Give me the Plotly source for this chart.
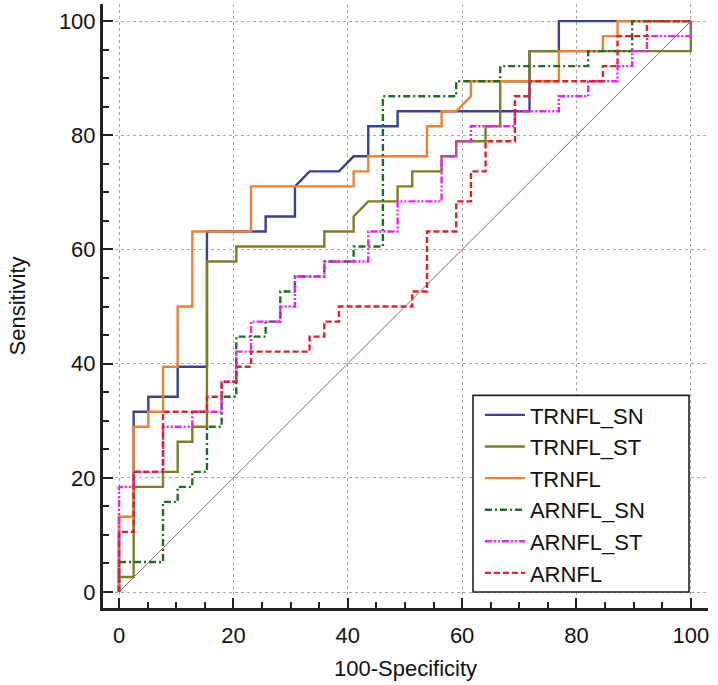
import plotly.graph_objects as go

# ROC step curves: 100-Specificity (x) and Sensitivity (y)
names = ["TRNFL_SN", "TRNFL_ST", "TRNFL", "ARNFL_SN", "ARNFL_ST", "ARNFL"]

trnfl_sn_x = [0, 0, 2.56, 2.56, 5.13, 5.13, 10.26, 10.26, 15.38, 15.38, 25.64, 25.64, 30.77, 30.77,
              33.33, 38.46, 41.03, 43.59, 43.59, 48.72, 48.72, 71.79, 71.79, 76.92, 76.92, 100]
trnfl_sn_y = [0, 13.16, 13.16, 31.58, 31.58, 34.21, 34.21, 39.47, 39.47, 63.16, 63.16, 65.79, 65.79, 71.05,
              73.68, 73.68, 76.32, 76.32, 81.58, 81.58, 84.21, 84.21, 94.74, 94.74, 100, 100]

trnfl_st_x = [0, 0, 2.56, 2.56, 7.69, 7.69, 10.26, 10.26, 12.82, 12.82, 15.38, 15.38, 20.51, 20.51,
              35.90, 35.90, 41.03, 41.03, 43.59, 48.72, 48.72, 51.28, 51.28, 56.41, 56.41, 58.97, 58.97,
              64.10, 64.10, 66.67, 66.67, 71.79, 71.79, 100, 100]
trnfl_st_y = [0, 2.63, 2.63, 18.42, 18.42, 21.05, 21.05, 26.32, 26.32, 28.95, 28.95, 57.89, 57.89, 60.53,
              60.53, 63.16, 63.16, 65.79, 68.42, 68.42, 71.05, 71.05, 73.68, 73.68, 76.32, 76.32, 78.95,
              78.95, 81.58, 81.58, 89.47, 89.47, 94.74, 94.74, 100]

trnfl_x = [0, 0, 2.56, 2.56, 5.13, 5.13, 7.69, 7.69, 10.26, 10.26, 12.82, 12.82, 23.08, 23.08, 41.03, 41.03,
           43.59, 43.59, 53.85, 53.85, 56.41, 56.41, 58.97, 61.54, 61.54, 76.92, 76.92, 84.62, 84.62,
           87.18, 87.18, 100]
trnfl_y = [0, 13.16, 13.16, 28.95, 28.95, 31.58, 31.58, 39.47, 39.47, 50.00, 50.00, 63.16, 63.16, 71.05,
           71.05, 73.68, 73.68, 76.32, 76.32, 81.58, 81.58, 84.21, 84.21, 86.84, 89.47, 89.47, 94.74,
           94.74, 97.37, 97.37, 100, 100]

arnfl_sn_x = [0, 0, 7.69, 7.69, 10.26, 10.26, 12.82, 12.82, 15.38, 15.38, 17.95, 17.95, 20.51, 20.51,
              25.64, 25.64, 28.21, 28.21, 30.77, 30.77, 35.90, 35.90, 41.03, 41.03, 46.15, 46.15, 58.97,
              58.97, 66.67, 66.67, 82.05, 82.05, 89.74, 89.74, 100]
arnfl_sn_y = [0, 5.26, 5.26, 15.79, 15.79, 18.42, 18.42, 21.05, 21.05, 28.95, 28.95, 34.21, 34.21, 44.74,
              44.74, 47.37, 47.37, 52.63, 52.63, 55.26, 55.26, 57.89, 57.89, 60.53, 60.53, 86.84, 86.84,
              89.47, 89.47, 92.11, 92.11, 94.74, 94.74, 100, 100]

arnfl_st_x = [0, 0, 2.56, 2.56, 7.69, 7.69, 12.82, 12.82, 17.95, 17.95, 20.51, 20.51, 23.08, 23.08,
              28.21, 28.21, 30.77, 30.77, 35.90, 35.90, 43.59, 43.59, 48.72, 48.72, 56.41, 56.41, 58.97,
              58.97, 61.54, 61.54, 69.23, 69.23, 76.92, 76.92, 82.05, 82.05, 87.18, 87.18, 89.74, 89.74,
              92.31, 92.31, 100, 100]
arnfl_st_y = [0, 18.42, 18.42, 21.05, 21.05, 28.95, 28.95, 31.58, 31.58, 36.84, 36.84, 42.11, 42.11, 47.37,
              47.37, 50.00, 50.00, 55.26, 55.26, 57.89, 57.89, 63.16, 63.16, 68.42, 68.42, 76.32, 76.32,
              78.95, 78.95, 81.58, 81.58, 84.21, 84.21, 86.84, 86.84, 89.47, 89.47, 92.11, 92.11, 94.74,
              94.74, 97.37, 97.37, 100]

arnfl_x = [0, 0, 2.56, 2.56, 7.69, 7.69, 15.38, 15.38, 17.95, 17.95, 20.51, 20.51, 23.08, 23.08, 33.33,
           33.33, 35.90, 35.90, 38.46, 38.46, 51.28, 51.28, 53.85, 53.85, 58.97, 58.97, 61.54, 61.54,
           64.10, 64.10, 69.23, 69.23, 71.79, 71.79, 84.62, 84.62, 87.18, 87.18, 92.31, 92.31, 100]
arnfl_y = [0, 10.53, 10.53, 21.05, 21.05, 31.58, 31.58, 34.21, 34.21, 36.84, 36.84, 39.47, 39.47, 42.11,
           42.11, 44.74, 44.74, 47.37, 47.37, 50.00, 50.00, 52.63, 52.63, 63.16, 63.16, 68.42, 68.42,
           73.68, 73.68, 78.95, 78.95, 86.84, 86.84, 89.47, 89.47, 92.11, 92.11, 97.37, 97.37, 100, 100]

xs = [trnfl_sn_x, trnfl_st_x, trnfl_x, arnfl_sn_x, arnfl_st_x, arnfl_x]
ys = [trnfl_sn_y, trnfl_st_y, trnfl_y, arnfl_sn_y, arnfl_st_y, arnfl_y]

colors = ["#3b3f99", "#7d7f22", "#f08133", "#1f6e23", "#ee22ee", "#e0202e"]
dashes = ["solid", "solid", "solid", "7px,3px,2px,3px", "7px,2px,2px,2px,2px,2px", "6px,3px"]

diag = [0, 100]
tickvals = [0, 20, 40, 60, 80, 100]

FONT = "Arial, Liberation Sans, sans-serif"

fig = go.Figure()
fig.add_trace(go.Scatter(x=diag, y=diag, mode="lines", showlegend=False, hoverinfo="skip",
                         line=dict(color="#9a6464", width=1)))
for n, x, y, c, d in zip(names, xs, ys, colors, dashes):
    fig.add_trace(go.Scatter(x=x, y=y, mode="lines", name=n,
                             line=dict(color=c, width=2.4, dash=d)))

axis_common = dict(
    range=[-2.8, 103], tickvals=tickvals, ticks="inside", ticklen=10, tickwidth=2,
    tickcolor="#222", showline=True, linewidth=3, linecolor="#222", mirror=False,
    showgrid=True, gridcolor="#a8a8a8", griddash="dot", gridwidth=1, zeroline=False,
    minor=dict(dtick=5, ticks="inside", ticklen=6, tickwidth=2, tickcolor="#222", showgrid=False),
    tickfont=dict(family=FONT, size=22, color="#111"),
    fixedrange=True, automargin=False,
)

fig.update_xaxes(**axis_common, ticklabelstandoff=6,
                 title=dict(text="100-Specificity", font=dict(family=FONT, size=22, color="#111"), standoff=14))
fig.update_yaxes(**axis_common, ticklabelstandoff=0,
                 title=dict(text="Sensitivity", font=dict(family=FONT, size=22, color="#111"), standoff=28))

# legend frame (white box with black border) behind the legend entries
fig.add_shape(type="rect", xref="paper", yref="paper",
              x0=0.6116, x1=0.9686, y0=0.0265, y1=0.352,
              fillcolor="white", line=dict(color="#222", width=1.6), layer="above")

fig.update_layout(
    width=718, height=685,
    margin=dict(l=103, r=10, t=4, b=77),
    paper_bgcolor="white", plot_bgcolor="white",
    font=dict(family=FONT, size=22, color="#111"),
    legend=dict(x=0.623, y=0.023, xanchor="left", yanchor="bottom",
                bgcolor="rgba(0,0,0,0)", borderwidth=0,
                font=dict(family=FONT, size=22, color="#111"),
                tracegroupgap=0, itemwidth=40),
    showlegend=True,
)

fig.write_html("out.html", config={"displayModeBar": False},
               post_script="document.body.style.margin='0';document.body.style.padding='0';")
